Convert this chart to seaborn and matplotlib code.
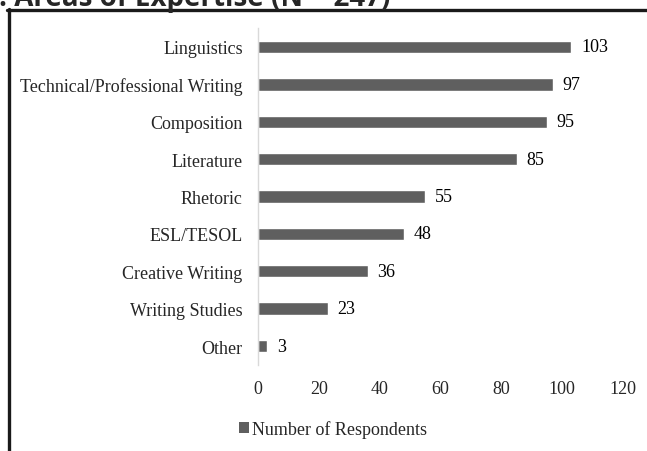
import matplotlib
matplotlib.use("Agg")
import matplotlib.pyplot as plt
import seaborn as sns
import pandas as pd
from matplotlib.lines import Line2D
from matplotlib.patches import Patch

categories = ["Linguistics", "Technical/Professional Writing", "Composition", "Literature",
              "Rhetoric", "ESL/TESOL", "Creative Writing", "Writing Studies", "Other"]
values = [103, 97, 95, 85, 55, 48, 36, 23, 3]
xticks = [0, 20, 40, 60, 80, 100, 120]
series_name = "Number of Respondents"
title = ": Areas of Expertise (N = 247)"

df = pd.DataFrame({"cat": categories, "val": values})

sns.set_style("white")
plt.rcParams["font.family"] = ["Liberation Serif", "DejaVu Serif"]

fig = plt.figure(figsize=(6.47, 4.52), dpi=100)
ax = fig.add_axes([0.3988, 0.1909, 0.5641, 0.7443])
bar_color = "#5f5f5f"
sns.barplot(data=df, y="cat", x="val", orient="h", color=bar_color, width=0.33,
            saturation=1, ax=ax)
ax.set_xlim(0, 120)
ax.set_ylim(len(categories) - 0.5, -0.5)
ax.set_xticks(xticks)
ax.set_xticklabels([str(t) for t in xticks], fontsize=13)
ax.tick_params(axis="x", length=0, pad=11)
ax.tick_params(axis="y", length=0, pad=11, labelsize=13)
ax.set_xlabel("")
ax.set_ylabel("")
for s in ["top", "right", "bottom"]:
    ax.spines[s].set_visible(False)
ax.spines["left"].set_color("#d9d9d9")
ax.spines["left"].set_linewidth(1)

for i, v in enumerate(values):
    ax.annotate(str(v), xy=(v, i), xytext=(7, 0), textcoords="offset points",
                va="center", ha="left", fontsize=13, color="black")

leg = fig.legend(handles=[Patch(facecolor=bar_color, edgecolor="none", label=series_name)],
                 loc="center", bbox_to_anchor=(333 / 647, 1 - 430 / 452), frameon=False,
                 fontsize=13, handlelength=0.55, handleheight=0.55, handletextpad=0.15)

fig.text(-0.002, 1 - 6 / 452, title, family=["Open Sans", "DejaVu Sans"], fontweight="bold",
         fontsize=20, va="baseline", ha="left")

fig.add_artist(Line2D([8.5 / 647, 8.5 / 647], [0, 1 - 10 / 452], transform=fig.transFigure,
                      color="#1a1a1a", linewidth=2.4))
fig.add_artist(Line2D([7 / 647, 1], [1 - 10.5 / 452, 1 - 10.5 / 452], transform=fig.transFigure,
                      color="#1a1a1a", linewidth=2.4))

fig.savefig("out.png", dpi=100)
